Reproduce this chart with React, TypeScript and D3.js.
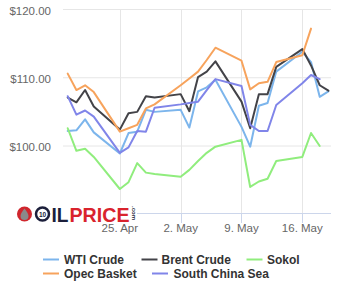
import React from "react";
import * as d3 from "d3";

const dates = [
  "2022-04-19", "2022-04-20", "2022-04-21", "2022-04-22", "2022-04-25", "2022-04-26",
  "2022-04-27", "2022-04-28", "2022-04-29", "2022-05-02", "2022-05-03", "2022-05-04",
  "2022-05-05", "2022-05-06", "2022-05-09", "2022-05-10", "2022-05-11", "2022-05-12",
  "2022-05-13", "2022-05-16", "2022-05-17", "2022-05-18", "2022-05-19",
];

const wti = [102.2, 102.3, 103.9, 102.0, 98.9, 101.9, 102.1, 105.3, 105.0, 105.3, 102.7, 108.0,
  108.6, 109.7, 102.8, 99.9, 105.9, 106.3, 110.9, 113.8, 112.3, 107.2, 108.0];
const brent = [107.1, 106.4, 108.2, 105.8, 102.4, 104.8, 105.0, 107.3, 107.1, 107.6, 105.1, 110.1,
  110.9, 112.4, 106.5, 102.6, 107.6, 107.6, 111.6, 114.2, 111.8, 108.9, 108.1];
const sokol = [102.6, 99.3, 99.6, 98.4, 93.7, 94.7, 97.5, 96.1, 95.9, 95.5, 96.5, 97.8,
  99.0, 99.9, 100.9, 94.0, 94.8, 95.2, 97.8, 98.4, 101.9, 100.0, null];
const opec = [110.6, 108.2, 108.9, 107.9, 102.1, 102.6, 103.1, 105.5, 106.1, 108.9, 109.9, 110.9,
  112.6, 114.4, 112.5, 108.3, 109.2, 109.4, 112.3, 113.3, 117.2, null, null];
const southChinaSea = [107.3, 104.6, 105.2, 104.3, 99.0, 99.8, 102.2, 102.1, 105.6, 106.1, 106.3, 106.5,
  108.2, 109.8, 108.8, 103.1, 102.2, 102.2, 106.0, 109.2, 110.4, 109.8, null];

const seriesNames = ["WTI Crude", "Brent Crude", "Sokol", "Opec Basket", "South China Sea"];
const seriesColors = ["#7cb5ec", "#434348", "#90ed7d", "#f7a35c", "#8085e9"];
const seriesValues = [wti, brent, sokol, opec, southChinaSea];

const yTicks = [100, 110, 120];
const yTickLabels = ["$100.00", "$110.00", "$120.00"];
const xTickDates = ["2022-04-25", "2022-05-02", "2022-05-09", "2022-05-16"];
const xTickLabels = ["25. Apr", "2. May", "9. May", "16. May"];

const parse = d3.utcParse("%Y-%m-%d");

export default function App() {
  const W = 341, H = 300;
  const plotLeft = 63, plotRight = 331, plotTop = 9, plotBottom = 213;
  const x = d3.scaleUtc()
    .domain([parse(dates[0]) as Date, parse(dates[dates.length - 1]) as Date])
    .range([67.7, 328.4]);
  const y = d3.scaleLinear().domain([100, 120]).range([146, 9.5]);

  const line = d3.line<[Date, number | null]>()
    .defined((d) => d[1] != null)
    .x((d) => x(d[0]))
    .y((d) => y(d[1] as number));

  const font = "'Liberation Sans', Arial, Helvetica, sans-serif";

  const legendItems = [
    { i: 0, sx: 43, tx: 64, y: 259.5 },
    { i: 1, sx: 141.5, tx: 161.5, y: 259.5 },
    { i: 2, sx: 246.5, tx: 267, y: 259.5 },
    { i: 3, sx: 43, tx: 64, y: 273.5 },
    { i: 4, sx: 152, tx: 173.5, y: 273.5 },
  ];

  return (
    <svg width={W} height={H} style={{ position: "absolute", left: 0, top: 0, background: "#fff" }}
      fontFamily={font}>
      <rect x={0} y={0} width={W} height={H} fill="#fff" />
      {yTicks.map((t) => (
        <line key={"gy" + t} x1={plotLeft} x2={plotRight} y1={y(t)} y2={y(t)} stroke="#e6e6e6" strokeWidth={1} />
      ))}
      {xTickDates.map((d) => {
        const px = Math.round(x(parse(d) as Date)) + 0.5;
        return <line key={"gx" + d} x1={px} x2={px} y1={plotTop} y2={plotBottom} stroke="#e6e6e6" strokeWidth={1} />;
      })}
      <line x1={plotLeft} x2={plotRight} y1={plotBottom + 0.5} y2={plotBottom + 0.5} stroke="#ccd6eb" strokeWidth={1} />
      {xTickDates.map((d) => {
        const px = Math.round(x(parse(d) as Date)) + 0.5;
        return <line key={"tk" + d} x1={px} x2={px} y1={plotBottom} y2={plotBottom + 10} stroke="#ccd6eb" strokeWidth={1} />;
      })}
      {yTicks.map((t, i) => (
        <text key={"yl" + t} x={51} y={y(t) + 5} textAnchor="end" fontSize={11.5} fill="#666666">
          {yTickLabels[i]}
        </text>
      ))}
      {xTickDates.map((d, i) => (
        <text key={"xl" + d} x={x(parse(d) as Date)} y={232} textAnchor="middle" fontSize={11.5} fill="#666666">
          {xTickLabels[i]}
        </text>
      ))}
      {seriesValues.map((vals, si) => {
        const pts = dates.map((d, k) => [parse(d) as Date, vals[k]] as [Date, number | null]);
        return (
          <path key={"s" + si} d={line(pts) || ""} fill="none" stroke={seriesColors[si]} strokeWidth={2}
            strokeLinejoin="round" strokeLinecap="round" />
        );
      })}
      {/* logo */}
      <g>
        <rect x={15} y={203} width={122} height={21} fill="#fff" />
        <circle cx={24.5} cy={214} r={7.5} fill="#d0262d" />
        <path d="M24.5,208.5 C22,212 20.5,214 20.5,216 A4,4 0 0 0 28.5,216 C28.5,214 27,212 24.5,208.5 Z" fill="#8a8a8a" />
        <circle cx={42.5} cy={214} r={6.5} fill="none" stroke="#1c1f3b" strokeWidth={2.5} />
        <text x={42.5} y={216.5} textAnchor="middle" fontSize={6.5} fontWeight="bold" fill="#1c1f3b">10</text>
        <text x={51.5} y={222} fontSize={21} fontWeight="bold" fill="#1c1f3b" textLength={17} lengthAdjust="spacingAndGlyphs">IL</text>
        <text x={69.5} y={222} fontSize={21} fontWeight="bold" fill="#d9232d" textLength={60} lengthAdjust="spacingAndGlyphs">PRICE</text>
        <text transform="translate(131.5,206) rotate(90)" fontSize={6} fontWeight="bold" fill="#1c1f3b">.com</text>
      </g>
      {legendItems.map((it) => (
        <g key={"lg" + it.i}>
          <line x1={it.sx} x2={it.sx + 16} y1={it.y} y2={it.y} stroke={seriesColors[it.i]} strokeWidth={2} />
          <text x={it.tx} y={it.y + 4.3} fontSize={12} fontWeight="bold" fill="#333333">{seriesNames[it.i]}</text>
        </g>
      ))}
    </svg>
  );
}
